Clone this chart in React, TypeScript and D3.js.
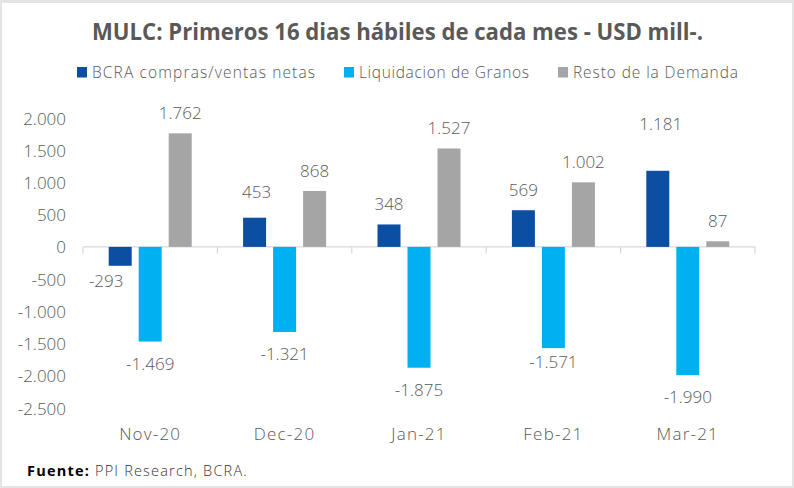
import React from "react";
import * as d3 from "d3";

const categories = ["Nov-20", "Dec-20", "Jan-21", "Feb-21", "Mar-21"];
const seriesNames = ["BCRA compras/ventas netas", "Liquidacion de Granos", "Resto de la Demanda"];
const bcra = [-293, 453, 348, 569, 1181];
const granos = [-1469, -1321, -1875, -1571, -1990];
const resto = [1762, 868, 1527, 1002, 87];
const yTicks = [2000, 1500, 1000, 500, 0, -500, -1000, -1500, -2000, -2500];
const colors = ["#0B4EA2", "#00B0F0", "#A5A5A5"];

// manual label nudges seen in the original (dx, dy), keyed "category|seriesIndex"
const labelNudge: Record<string, [number, number]> = {
  "Nov-20|0": [-14, -7],
  "Dec-20|0": [2, -6],
  "Mar-21|0": [3, -27],
  "Feb-21|1": [0, -8],
};

const W = 794;
const H = 488;
const FONT = "'Open Sans', 'Noto Sans', sans-serif";
const TXT = "#595959";

const fmt = (v: number) => {
  const s = Math.abs(v).toString().replace(/\B(?=(\d{3})+(?!\d))/g, ".");
  return (v < 0 ? "-" : "") + s;
};

export default function App() {
  const x = d3.scaleBand<string>().domain(categories).range([83, 755]);
  const y = d3.scaleLinear().domain([-2500, 2000]).range([408, 118]);
  const series = [bcra, granos, resto];
  const barW = 23;
  const step = 30;
  const y0 = y(0);
  const legendX = [77, 344, 558];
  const legendW = [223, 170, 165];

  return (
    <svg width={W} height={H} style={{ position: "absolute", left: 0, top: 0 }} fontFamily={FONT}>
      <rect x={0} y={0} width={W} height={H} fill="#E4E4E4" />
      <rect x={2} y={3} width={790} height={483} fill="#FFFFFF" />
      <text x={92} y={39.5} fontSize={23} fontWeight={700} fill={TXT} textLength={611} lengthAdjust="spacingAndGlyphs">
        MULC: Primeros 16 dias hábiles de cada mes - USD mill-.
      </text>
      {seriesNames.map((n, i) => (
        <g key={n}>
          <rect x={legendX[i]} y={67} width={10} height={10.5} fill={colors[i]} />
          <text x={legendX[i] + 15} y={78} fontSize={15.5} fontWeight={300} fill={TXT} textLength={legendW[i]} lengthAdjust="spacing">
            {n}
          </text>
        </g>
      ))}
      {yTicks.map((t) => (
        <text key={t} x={66} y={y(t) + 6.5} textAnchor="end" fontSize={17} fontWeight={300} fill={TXT}>
          {fmt(t)}
        </text>
      ))}
      <line x1={83} x2={755} y1={y0} y2={y0} stroke="#D9D9D9" strokeWidth={1.3} />
      {d3.range(categories.length + 1).map((i) => {
        const xx = 83 + i * x.bandwidth();
        return <line key={i} x1={xx} x2={xx} y1={y0} y2={y0 + 6.5} stroke="#D9D9D9" strokeWidth={1.3} />;
      })}
      {categories.map((c, ci) => {
        const cx = (x(c) as number) + x.bandwidth() / 2;
        return (
          <g key={c}>
            {series.map((s, si) => {
              const v = s[ci];
              const bx = cx + (si - 1) * step - barW / 2;
              const top = Math.min(y(v), y0);
              const h = Math.abs(y(v) - y0);
              const [dx, dy] = labelNudge[`${c}|${si}`] || [0, 0];
              const ly = (v >= 0 ? y(v) - 14 : y(v) + 28) + dy;
              return (
                <g key={si}>
                  <rect x={bx} y={top} width={barW} height={h} fill={colors[si]} />
                  <text x={bx + barW / 2 + dx} y={ly} textAnchor="middle" fontSize={17} fontWeight={300} fill={TXT}>
                    {fmt(v)}
                  </text>
                </g>
              );
            })}
            <text x={cx} y={440} textAnchor="middle" fontSize={17} fontWeight={300} fill={TXT} letterSpacing={1.2}>
              {c}
            </text>
          </g>
        );
      })}
      <text x={27} y={476} fontSize={14.5} fill="#000" letterSpacing={1.2}>
        <tspan fontWeight={700}>Fuente:</tspan>
        <tspan fill="#333" fontWeight={300}> PPI Research, BCRA.</tspan>
      </text>
    </svg>
  );
}
